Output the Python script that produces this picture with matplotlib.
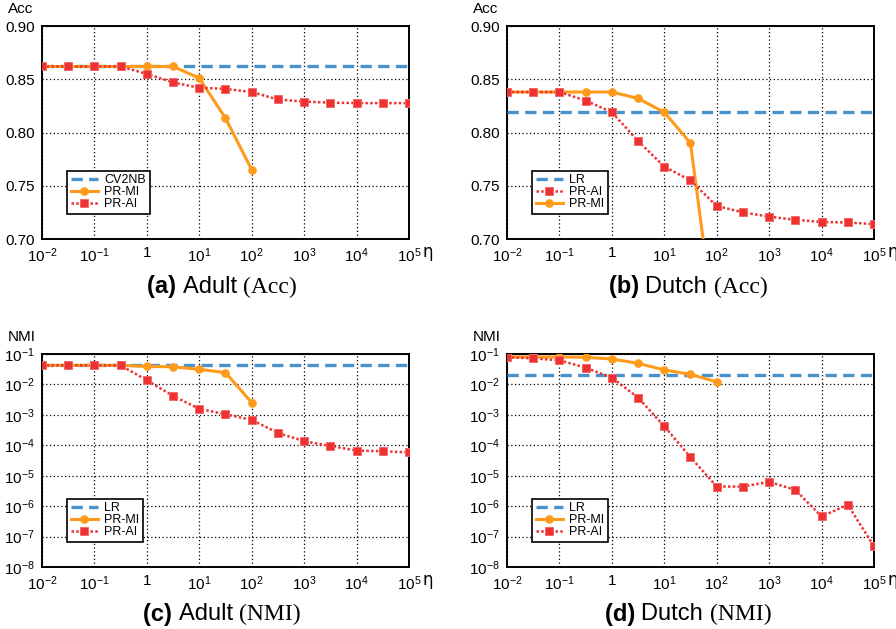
import matplotlib
matplotlib.use('Agg')
import matplotlib.pyplot as plt
import matplotlib.ticker as mticker
import numpy as np

plt.rcParams['font.family'] = ['Liberation Sans', 'DejaVu Sans']
plt.rcParams['mathtext.fontset'] = 'custom'
plt.rcParams['mathtext.rm'] = 'Liberation Sans'
plt.rcParams['mathtext.it'] = 'Liberation Sans:italic'
plt.rcParams['mathtext.bf'] = 'Liberation Sans:bold'

# eta values (half decades from 1e-2 to 1e5)
eta = [0.01, 0.0316, 0.1, 0.316, 1, 3.16, 10, 31.6, 100, 316, 1000, 3162, 10000, 31623, 100000]
eta_mi = eta[:9]

# (a) Adult accuracy
adult_acc_base = 0.862
adult_acc_mi = [0.862, 0.862, 0.862, 0.862, 0.862, 0.862, 0.851, 0.8135, 0.765]
adult_acc_ai = [0.862, 0.862, 0.862, 0.862, 0.855, 0.847, 0.842, 0.841, 0.838,
                0.831, 0.829, 0.828, 0.8276, 0.8276, 0.8276]

# (b) Dutch accuracy
dutch_acc_base = 0.819
dutch_acc_mi = [0.838, 0.838, 0.838, 0.838, 0.838, 0.832, 0.819, 0.790, 0.603]
dutch_acc_ai = [0.838, 0.838, 0.838, 0.830, 0.819, 0.792, 0.768, 0.755, 0.731,
                0.725, 0.721, 0.718, 0.716, 0.7155, 0.714]

# (c) Adult NMI
adult_nmi_base = 0.0425
adult_nmi_mi = [0.0425, 0.0425, 0.0425, 0.0425, 0.039, 0.038, 0.0314, 0.0244, 0.00253]
adult_nmi_ai = [0.0425, 0.0425, 0.0425, 0.0425, 0.0137, 0.0042, 0.00157, 0.00105, 0.00068,
                0.000255, 0.000136, 9.5e-5, 6.7e-5, 6.4e-5, 5.8e-5]

# (d) Dutch NMI
dutch_nmi_base = 0.0204
dutch_nmi_mi = [0.080, 0.080, 0.080, 0.078, 0.0686, 0.0494, 0.0299, 0.0215, 0.0121]
dutch_nmi_ai = [0.078, 0.072, 0.062, 0.0356, 0.0167, 0.0037, 4.2e-4, 4.05e-5, 4.4e-6,
                4.4e-6, 6.3e-6, 3.4e-6, 4.6e-7, 1.1e-6, 4.8e-8]

BLUE = '#4a92cb'
ORANGE = '#ff9a1a'
RED = '#ee3232'


def xfmt(v, pos):
    e = int(round(np.log10(v)))
    if e == 0:
        return '1'
    return '10$^{%d}$' % e


def yfmt(v, pos):
    e = int(round(np.log10(v)))
    return '10$^{%d}$' % e


def draw(ax, base, mi, ai, base_name, order, log, ylab):
    h_base, = ax.plot([eta[0], eta[-1]], [base, base], color=BLUE, lw=2.4,
                      dashes=(3.4, 1.9), label=base_name, zorder=3)
    h_mi, = ax.plot(eta_mi, mi, color=ORANGE, lw=2.2, marker='o', ms=5.2,
                    label='PR-MI', zorder=4)
    h_ai, = ax.plot(eta, ai, color=RED, lw=1.8, ls=(0, (1, 0.9)), marker='s', ms=6,
                    mec='#f26a6a', mew=0.7, label='PR-AI', zorder=5)
    ax.set_xscale('log')
    ax.set_xlim(0.01, 1e5)
    ax.xaxis.set_major_locator(mticker.LogLocator(base=10, numticks=10))
    ax.xaxis.set_minor_locator(mticker.NullLocator())
    ax.xaxis.set_major_formatter(mticker.FuncFormatter(xfmt))
    if log:
        ax.set_yscale('log')
        ax.set_ylim(1e-8, 1e-1)
        ax.yaxis.set_major_locator(mticker.LogLocator(base=10, numticks=10))
        ax.yaxis.set_minor_locator(mticker.NullLocator())
        ax.yaxis.set_major_formatter(mticker.FuncFormatter(yfmt))
    else:
        ax.set_ylim(0.70, 0.90)
        ax.set_yticks([0.70, 0.75, 0.80, 0.85, 0.90])
        ax.yaxis.set_major_formatter(mticker.FormatStrFormatter('%.2f'))
    ax.grid(True, color='black', ls=(0, (1, 2)), lw=0.9)
    ax.tick_params(length=0, labelsize=11, pad=5)
    for s in ax.spines.values():
        s.set_linewidth(1.4)
    handles = {'base': h_base, 'mi': h_mi, 'ai': h_ai}
    leg = ax.legend([handles[k] for k in order], [handles[k].get_label() for k in order],
                    loc='lower left', bbox_to_anchor=(0.068, 0.117), fontsize=9,
                    fancybox=False, framealpha=1, edgecolor='black', borderpad=0.3,
                    handlelength=2.2, labelspacing=0.0, handletextpad=0.5,
                    borderaxespad=0)
    leg.get_frame().set_linewidth(1.2)
    leg.set_zorder(10)
    ax.text(1.036, -0.062, 'η', transform=ax.transAxes, fontsize=12,
            ha='left', va='center', family='DejaVu Sans')
    ax.text(-0.093, 1.045, ylab, transform=ax.transAxes, fontsize=11,
            ha='left', va='bottom')
    return ax


fig = plt.figure(figsize=(8.96, 6.29), dpi=100)
W, H = 896, 629
boxes = [(42, 26), (507, 26), (42, 354), (507, 354)]
axw, axh = 367, 213
axes = []
for (x0, y0) in boxes:
    axes.append(fig.add_axes([x0 / W, 1 - (y0 + axh) / H, axw / W, axh / H]))

draw(axes[0], adult_acc_base, adult_acc_mi, adult_acc_ai, 'CV2NB',
     ['base', 'mi', 'ai'], False, 'Acc')
draw(axes[1], dutch_acc_base, dutch_acc_mi, dutch_acc_ai, 'LR',
     ['base', 'ai', 'mi'], False, 'Acc')
draw(axes[2], adult_nmi_base, adult_nmi_mi, adult_nmi_ai, 'LR',
     ['base', 'mi', 'ai'], True, 'NMI')
draw(axes[3], dutch_nmi_base, dutch_nmi_mi, dutch_nmi_ai, 'LR',
     ['base', 'mi', 'ai'], True, 'NMI')

# captions: bold sans letter, sans name, serif parenthetical
captions = [('(a)', 'Adult', '(Acc)', 222, 287), ('(b)', 'Dutch', '(Acc)', 688, 287),
            ('(c)', 'Adult', '(NMI)', 222, 614), ('(d)', 'Dutch', '(NMI)', 688, 614)]
r = fig.canvas.get_renderer()
for letter, name, paren, cx, cy in captions:
    parts = [(letter + ' ', dict(weight='bold', family=['Liberation Sans'])),
             (name + ' ', dict(family=['Liberation Sans'])),
             (paren, dict(family=['Liberation Serif']))]
    texts = []
    for s, kw in parts:
        t = fig.text(0, 1 - cy / H, s, fontsize=17, va='center', ha='left', **kw)
        texts.append(t)
    widths = [t.get_window_extent(r).width for t in texts]
    x = cx - sum(widths) / 2
    for t, w in zip(texts, widths):
        t.set_x(x / W)
        x += w

fig.savefig('out.png', dpi=100)
